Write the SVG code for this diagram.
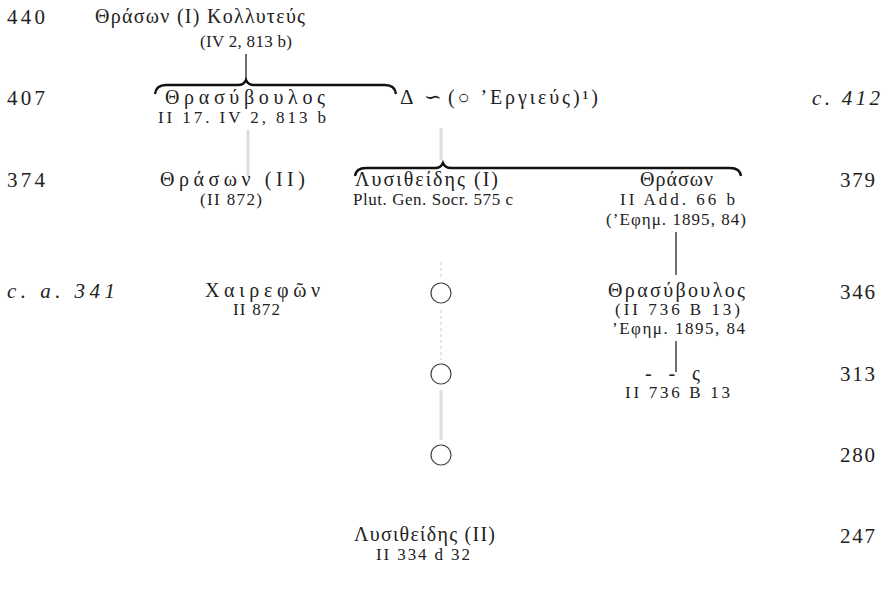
<svg xmlns="http://www.w3.org/2000/svg" width="887" height="601" viewBox="0 0 887 601">
<style>
text{font-family:"Liberation Serif","DejaVu Serif",serif;fill:#222;}
.n{font-size:21px;}
.it{font-size:21px;font-style:italic;}
.nm{font-size:20px;}
.ref{font-size:17px;}
.ln{stroke:#333;stroke-width:1.4;fill:none;}
.br{stroke:#111;stroke-width:2.4;fill:none;}
.fd{stroke:#ddd;stroke-width:3;fill:none;}
.fdd{stroke:#d4d4d4;stroke-width:1.2;fill:none;stroke-dasharray:3 3;}
.c{stroke:#444;stroke-width:1.2;fill:none;}
</style>
<g id="dates">
<text class="n" x="7" y="24" textLength="38" lengthAdjust="spacing">440</text>
<text class="n" x="7" y="105" textLength="38" lengthAdjust="spacing">407</text>
<text class="n" x="7" y="187" textLength="38" lengthAdjust="spacing">374</text>
<text class="it" x="7" y="298" textLength="108" lengthAdjust="spacing">c. a. 341</text>
<text class="it" x="812" y="105" textLength="68" lengthAdjust="spacing">c. 412</text>
<text class="n" x="840" y="187" textLength="35" lengthAdjust="spacing">379</text>
<text class="n" x="840" y="299" textLength="35" lengthAdjust="spacing">346</text>
<text class="n" x="840" y="381" textLength="35" lengthAdjust="spacing">313</text>
<text class="n" x="840" y="462" textLength="35" lengthAdjust="spacing">280</text>
<text class="n" x="840" y="543" textLength="35" lengthAdjust="spacing">247</text>
</g>
<g id="connectors">
<line class="ln" x1="246" y1="54" x2="246" y2="79"/>
<path class="br" d="M155,94 Q156,85 166,85 L238,85 Q244,85 246,80 Q248,85 254,85 L385,85 Q395,85 396,94"/>
<path class="br" d="M355,176 Q356,168 366,168 L435,168 Q441,168 443,163 Q445,168 451,168 L730,168 Q740,168 741,176"/>
<line class="fd" x1="248" y1="130" x2="248" y2="176"/>
<line class="fd" x1="441" y1="128" x2="441" y2="160"/>
<line class="fdd" x1="441" y1="262" x2="441" y2="280"/>
<line class="fdd" x1="441" y1="310" x2="441" y2="360"/>
<line class="fd" x1="441" y1="390" x2="441" y2="440"/>
<line class="ln" x1="676" y1="232" x2="676" y2="275"/>
<line class="ln" x1="676" y1="341" x2="676" y2="372"/>
</g>
<g id="thrason1">
<text class="nm" x="95" y="23" textLength="210" lengthAdjust="spacing">Θράσων (Ι) Κολλυτεύς</text>
<text class="ref" x="200" y="47" textLength="92" lengthAdjust="spacing">(IV 2, 813 b)</text>
</g>
<g id="thrasybulos1">
<text class="nm" x="165" y="104" textLength="160" lengthAdjust="spacing">Θρασύβουλος</text>
<text class="ref" x="158" y="123" textLength="168" lengthAdjust="spacing">II 17. IV 2, 813 b</text>
</g>
<g id="delta">
<text class="n" x="400" y="104">Δ</text>
<text class="n" x="424" y="104">∽</text>
<text class="nm" x="448" y="104" textLength="150" lengthAdjust="spacing">(○ ’Εργιεύς)¹)</text>
</g>
<g id="thrason2">
<text class="nm" x="160" y="186" textLength="145" lengthAdjust="spacing">Θράσων (ΙΙ)</text>
<text class="ref" x="200" y="205" textLength="62" lengthAdjust="spacing">(II 872)</text>
</g>
<g id="lysitheides1">
<text class="nm" x="355" y="186" textLength="143" lengthAdjust="spacing">Λυσιθείδης (Ι)</text>
<text class="ref" x="353" y="205" textLength="160" lengthAdjust="spacing">Plut. Gen. Socr. 575 c</text>
</g>
<g id="thrason3">
<text class="nm" x="640" y="186" textLength="73" lengthAdjust="spacing">Θράσων</text>
<text class="ref" x="620" y="205" textLength="115" lengthAdjust="spacing">II Add. 66 b</text>
<text class="ref" x="606" y="225" textLength="140" lengthAdjust="spacing">(’Εφημ. 1895, 84)</text>
</g>
<g id="chairephon">
<text class="nm" x="205" y="297" textLength="115" lengthAdjust="spacing">Χαιρεφῶν</text>
<text class="ref" x="233" y="315" textLength="47" lengthAdjust="spacing">II 872</text>
</g>
<g id="circle1"><circle class="c" cx="441" cy="293" r="10"/></g>
<g id="thrasybulos2">
<text class="nm" x="608" y="297" textLength="137" lengthAdjust="spacing">Θρασύβουλος</text>
<text class="ref" x="615" y="315" textLength="125" lengthAdjust="spacing">(II 736 B 13)</text>
<text class="ref" x="612" y="334" textLength="133" lengthAdjust="spacing">’Εφημ. 1895, 84</text>
</g>
<g id="circle2"><circle class="c" cx="441" cy="374" r="10"/></g>
<g id="unknown">
<text class="nm" x="645" y="380" textLength="55" lengthAdjust="spacing">- - ς</text>
<text class="ref" x="625" y="398" textLength="105" lengthAdjust="spacing">II 736 B 13</text>
</g>
<g id="circle3"><circle class="c" cx="441" cy="455" r="10"/></g>
<g id="lysitheides2">
<text class="nm" x="354" y="541" textLength="141" lengthAdjust="spacing">Λυσιθείδης (ΙΙ)</text>
<text class="ref" x="376" y="560" textLength="94" lengthAdjust="spacing">II 334 d 32</text>
</g>
</svg>
